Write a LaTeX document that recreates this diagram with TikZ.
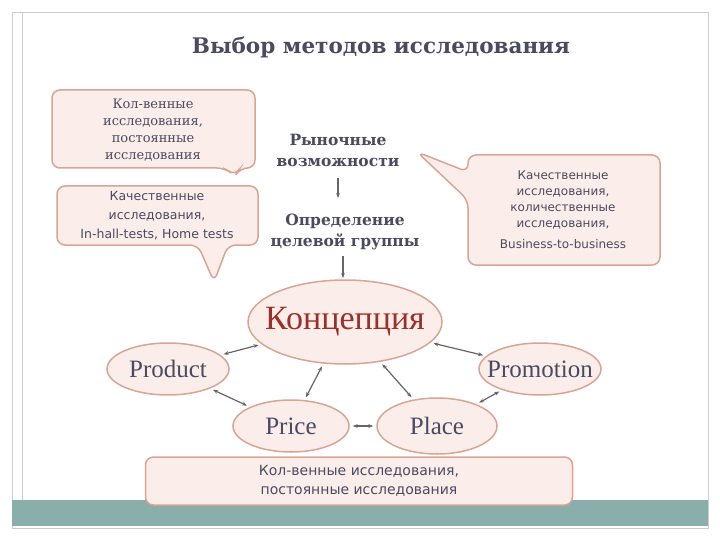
\documentclass[tikz,border=0pt]{standalone}
\usepackage{fontspec}
\setmainfont{Liberation Serif}
\newfontfamily\sans{DejaVu Sans}
\newfontfamily\dser{DejaVu Serif}
\usetikzlibrary{shapes.geometric,arrows.meta}
\definecolor{fillc}{HTML}{FBEEEA}
\definecolor{edgec}{HTML}{D9A593}
\definecolor{txt}{HTML}{4A4A60}
\definecolor{teal}{HTML}{8AAEAA}
\definecolor{dred}{HTML}{9E2E28}
\tikzset{
 callout/.style={draw=edgec,line width=1.5pt,fill=fillc,rounded corners=8pt},
 ell/.style={ellipse,draw=edgec,line width=1.5pt,fill=fillc,inner sep=0pt},
 lbl/.style={text=txt,align=center},
 dbl/.style={{Stealth[length=5pt]}-{Stealth[length=5pt]},draw=gray!80!black,line width=1.2pt,shorten >=3pt,shorten <=3pt},
 down/.style={-{Stealth[length=5pt]},draw=gray!80!black,line width=1.2pt}
}
\begin{document}
\begin{tikzpicture}[x=1pt,y=-1pt]
\useasboundingbox (0,0) rectangle (720,540);
\fill[white] (0,0) rectangle (720,540);
\draw[gray!40] (12,12) rectangle (708,528);
\draw[gray!40] (22,12) -- (22,500);
\fill[teal] (12,500) rectangle (708,526);
\node[lbl,font=\dser\bfseries\fontsize{21.5}{24}\selectfont] (title) at (381,47) {Выбор методов исследования};
% callouts
\draw[callout] (52,90) -- (255,90) -- (255,168) -- (240,168) -- (235,176) -- (225,168) -- (52,168) -- cycle;
\node[lbl,font=\dser\fontsize{13}{17}\selectfont] (c1) at (153,130) {Кол-венные\\исследования,\\постоянные\\исследования};
\draw[callout] (57,186) -- (258,186) -- (258,245) -- (228,245) -- (214,282) -- (198,245) -- (57,245) -- cycle;
\node[lbl,font=\sans\fontsize{12.5}{19}\selectfont] (c2) at (157,216) {Качественные\\исследования,\\In-hall-tests, Home tests};
\draw[callout] (468,155) -- (660,155) -- (660,265) -- (468,265) -- (468,200) -- (417,152) -- (468,172) -- cycle;
\node[lbl,font=\sans\fontsize{12}{16}\selectfont] (c3) at (563,210) {Качественные\\исследования,\\количественные\\исследования,\\[5pt]Business-to-business};
% flow
\node[lbl,font=\dser\bfseries\fontsize{15.5}{21}\selectfont] (m) at (338,150) {Рыночные\\возможности};
\node[lbl,font=\dser\bfseries\fontsize{15.5}{21}\selectfont] (t) at (345,232) {Определение\\целевой группы};
\coordinate (a1) at (338,198); \coordinate (a0) at (338,178);
\draw[down] (a0) -- (a1);
\coordinate (b0) at (343,256); \coordinate (b1) at (343,278);
\draw[down] (b0) -- (b1);
% ellipses
\node[ell,minimum width=194pt,minimum height=84pt,label={[text=dred,font=\fontsize{34}{36}\selectfont]center:Концепция}] (k) at (345,322) {};
\node[ell,minimum width=122pt,minimum height=52pt,label={[text=txt,font=\fontsize{25}{26}\selectfont]center:Product}] (pr) at (168,369) {};
\node[ell,minimum width=122pt,minimum height=52pt,label={[text=txt,font=\fontsize{25}{26}\selectfont]center:Promotion}] (pm) at (540,369) {};
\node[ell,minimum width=116pt,minimum height=52pt,label={[text=txt,font=\fontsize{25}{26}\selectfont]center:Price}] (pc) at (291,426) {};
\node[ell,minimum width=120pt,minimum height=56pt,label={[text=txt,font=\fontsize{25}{26}\selectfont]center:Place}] (pl) at (437,426) {};
\draw[dbl] (pr) -- (k);
\draw[dbl] (k) -- (pm);
\draw[dbl] (k) -- (pc);
\draw[dbl] (k) -- (pl);
\draw[dbl] (pr) -- (pc);
\draw[dbl] (pc) -- (pl);
\draw[dbl] (pl) -- (pm);
% bottom box
\node[callout,minimum width=427pt,minimum height=48pt,lbl,font=\sans\fontsize{14}{19}\selectfont] (bb) at (359,481) {Кол-венные исследования,\\постоянные исследования};
\end{tikzpicture}
\end{document}
